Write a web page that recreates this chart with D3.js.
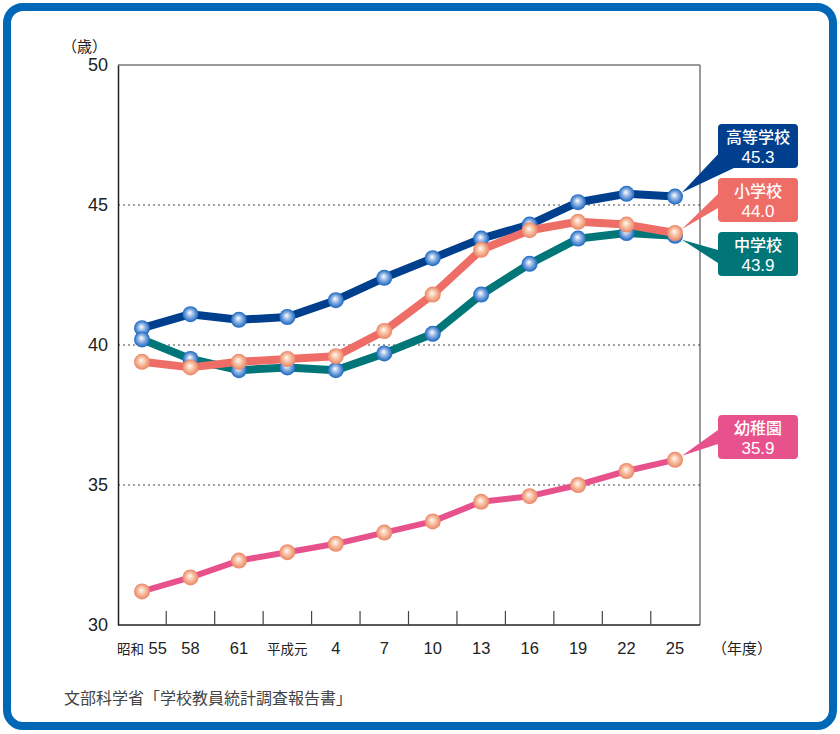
<!DOCTYPE html>
<html>
<head>
<meta charset="utf-8">
<script src="https://cdn.jsdelivr.net/npm/d3@7"></script>
<style>
  body { margin: 0; background: #fff; }
  svg text { font-family: "Liberation Sans", "Noto Sans CJK JP", sans-serif; }
  .jp { font-family: "Noto Sans CJK JP", sans-serif; }
</style>
</head>
<body>
<svg id="chart" width="840" height="734"></svg>
<script>
// data
var years = ["昭和 55", "58", "61", "平成元", "4", "7", "10", "13", "16", "19", "22", "25"];
var koko = [40.6, 41.1, 40.9, 41.0, 41.6, 42.4, 43.1, 43.8, 44.3, 45.1, 45.4, 45.3];
var chu  = [40.2, 39.5, 39.1, 39.2, 39.1, 39.7, 40.4, 41.8, 42.9, 43.8, 44.0, 43.9];
var sho  = [39.4, 39.2, 39.4, 39.5, 39.6, 40.5, 41.8, 43.4, 44.1, 44.4, 44.3, 44.0];
var yochi = [31.2, 31.7, 32.3, 32.6, 32.9, 33.3, 33.7, 34.4, 34.6, 35.0, 35.5, 35.9];
var yTicks = [30, 35, 40, 45, 50];

function vis_chart() {
var svg = d3.select("#chart");

// outer blue frame
svg.append("rect")
  .attr("x", 7).attr("y", 7).attr("width", 826).attr("height", 719)
  .attr("rx", 16)
  .attr("fill", "#fff").attr("stroke", "#0068b7").attr("stroke-width", 8);

var pLeft = 118, pRight = 700, pTop = 65, pBottom = 625;

var x = d3.scalePoint().domain(years).range([142, 675]);
var y = d3.scaleLinear().domain([30, 50]).range([pBottom, pTop]);

// plot frame
svg.append("line").attr("x1", pLeft).attr("x2", pRight).attr("y1", pTop).attr("y2", pTop)
  .attr("stroke", "#777").attr("stroke-width", 1.5);
svg.append("line").attr("x1", pRight).attr("x2", pRight).attr("y1", pTop).attr("y2", pBottom)
  .attr("stroke", "#777").attr("stroke-width", 1.5);

// dotted grid
svg.append("g").selectAll("line")
  .data([35, 40, 45])
  .enter().append("line")
    .attr("x1", pLeft).attr("x2", pRight)
    .attr("y1", function(d) { return y(d); })
    .attr("y2", function(d) { return y(d); })
    .attr("stroke", "#444").attr("stroke-width", 1.2)
    .attr("stroke-dasharray", "2,3");

// y axis
var yAxis = svg.append("g")
  .attr("transform", "translate(" + pLeft + ",0)")
  .call(d3.axisLeft(y).tickValues(yTicks).tickSize(0).tickPadding(10));
yAxis.select(".domain").attr("stroke", "#222").attr("stroke-width", 1.5);
yAxis.selectAll("text").attr("font-size", 18).attr("fill", "#222")
  .attr("font-family", "Liberation Sans, sans-serif");

// x axis: ticks between points, pointing up
var step = x.step();
var tickPos = years.slice(1).map(function(d) { return x(d) - step / 2; });
svg.append("line").attr("x1", pLeft).attr("x2", pRight).attr("y1", pBottom).attr("y2", pBottom)
  .attr("stroke", "#222").attr("stroke-width", 1.5);
svg.append("g").selectAll("line")
  .data(tickPos)
  .enter().append("line")
    .attr("x1", function(d) { return d; }).attr("x2", function(d) { return d; })
    .attr("y1", pBottom).attr("y2", pBottom - 14)
    .attr("stroke", "#444").attr("stroke-width", 1.2);
var xl = svg.append("g").selectAll("text")
  .data(years)
  .enter().append("text")
    .attr("x", function(d) { return x(d); })
    .attr("y", 654)
    .attr("text-anchor", "middle")
    .attr("fill", "#222");
xl.each(function(d) {
  var t = d3.select(this);
  var parts = d.match(/[^0-9 ]+|[0-9 ]+/g);
  parts.forEach(function(p) {
    var isNum = /[0-9]/.test(p);
    t.append("tspan")
      .attr("font-size", isNum ? 16.5 : 13.5)
      .attr("font-family", isNum ? "Liberation Sans, sans-serif" : "Noto Sans CJK JP, sans-serif")
      .text(p);
  });
});

svg.append("text").attr("class", "jp").attr("x", 62).attr("y", 52)
  .attr("font-size", 15).attr("fill", "#222").text("（歳）");
svg.append("text").attr("class", "jp").attr("x", 712).attr("y", 654)
  .attr("font-size", 15).attr("fill", "#222").text("（年度）");
svg.append("text").attr("class", "jp").attr("x", 64).attr("y", 704)
  .attr("font-size", 16).attr("fill", "#444").text("文部科学省「学校教員統計調査報告書」");

// gradients for markers
var defs = svg.append("defs");
function ball(id, inner, mid, outer) {
  var g = defs.append("radialGradient").attr("id", id)
    .attr("cx", "50%").attr("cy", "50%").attr("r", "50%").attr("fx", "45%").attr("fy", "40%");
  g.append("stop").attr("offset", "0%").attr("stop-color", inner);
  g.append("stop").attr("offset", "50%").attr("stop-color", mid);
  g.append("stop").attr("offset", "100%").attr("stop-color", outer);
}
ball("blueBall", "#ffffff", "#86ace0", "#1766c0");
ball("peachBall", "#fffaf4", "#f7bea0", "#eb8466");

var series = [
  { name: "高等学校", values: koko, color: "#003f8e", ball: "blueBall", width: 8, boxY: 124, pointer: [[4, 150], [16, 168]], dy: -4 },
  { name: "中学校", values: chu, color: "#007679", ball: "blueBall", width: 8, boxY: 232, pointer: [[0, 250], [0, 263]], dy: 4 },
  { name: "小学校", values: sho, color: "#ee6d66", ball: "peachBall", width: 8, boxY: 178, pointer: [[0, 194], [0, 208]], dy: -4 },
  { name: "幼稚園", values: yochi, color: "#e8528c", ball: "peachBall", width: 6, boxY: 415, pointer: [[0, 430], [0, 444]], dy: -4 }
];

var line = d3.line()
  .x(function(d, i) { return x(years[i]); })
  .y(function(d) { return y(d); });

series.forEach(function(s) {
  var g = svg.append("g");
  g.append("path")
    .attr("d", line(s.values))
    .attr("fill", "none")
    .attr("stroke", s.color)
    .attr("stroke-width", s.width)
    .attr("stroke-linejoin", "round");
  g.selectAll("circle")
    .data(s.values)
    .enter().append("circle")
      .attr("cx", function(d, i) { return x(years[i]); })
      .attr("cy", function(d) { return y(d); })
      .attr("r", 8)
      .attr("fill", "url(#" + s.ball + ")");
});

// callout boxes
var boxX = 718, boxW = 80, boxH = 44;
series.forEach(function(s) {
  var last = s.values[s.values.length - 1];
  var px = x(years[years.length - 1]) + 7, py = y(last) + s.dy;
  var g = svg.append("g");
  g.append("path")
    .attr("d", "M" + (boxX + s.pointer[0][0]) + "," + s.pointer[0][1] +
               "L" + px + "," + py +
               "L" + (boxX + s.pointer[1][0]) + "," + s.pointer[1][1] + "Z")
    .attr("fill", s.color);
  g.append("rect")
    .attr("x", boxX).attr("y", s.boxY).attr("width", boxW).attr("height", boxH)
    .attr("rx", 4).attr("fill", s.color);
  g.append("text").attr("class", "jp")
    .attr("x", boxX + boxW / 2).attr("y", s.boxY + 19)
    .attr("text-anchor", "middle").attr("font-size", 16).attr("font-weight", 500)
    .attr("fill", "#fff").text(s.name);
  g.append("text")
    .attr("x", boxX + boxW / 2).attr("y", s.boxY + 39)
    .attr("text-anchor", "middle").attr("font-size", 17)
    .attr("fill", "#fff").text(last.toFixed(1));
});
} // end vis_chart

vis_chart();
</script>
</body>
</html>
